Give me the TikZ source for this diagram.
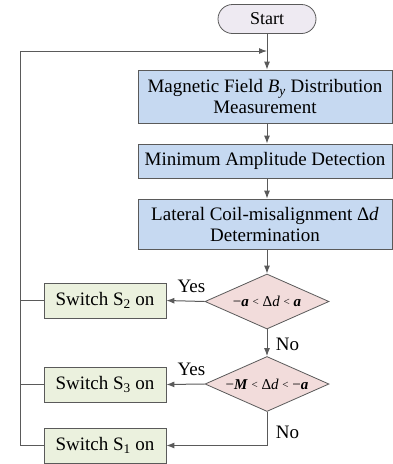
\documentclass[tikz,border=0pt]{standalone}
\usepackage{fontspec}
\setmainfont{Liberation Serif}
\usetikzlibrary{shapes.geometric,arrows.meta}
\definecolor{procfill}{HTML}{C6D9F1}
\definecolor{decfill}{HTML}{F2DCDB}
\definecolor{swfill}{HTML}{EBF1DE}
\definecolor{startfill}{HTML}{EEEAF2}
\definecolor{edgecol}{HTML}{5A5A5A}
\newcommand{\lt}{{\fontsize{11}{12}\selectfont\raisebox{1pt}{<}}}
\begin{document}
\begin{tikzpicture}[x=1pt,y=-1pt,
  txt/.style={font=\fontsize{19}{21}\selectfont},
  proc/.style={txt, draw=edgecol, line width=0.8pt, fill=procfill, minimum width=254pt, inner sep=0pt, align=center},
  dec/.style={diamond, aspect=2.25, draw=edgecol, line width=0.8pt, fill=decfill, minimum width=124pt, minimum height=55pt, inner sep=0pt, font=\fontsize{15}{17}\selectfont},
  sw/.style={txt, draw=edgecol, line width=0.8pt, fill=swfill, minimum width=122pt, minimum height=35pt, inner sep=0pt},
  startbox/.style={draw=edgecol, line width=0.8pt, fill=startfill, rounded corners=14.5pt, minimum width=98pt, minimum height=29pt, inner sep=0pt, font=\fontsize{18}{20}\selectfont},
  arr/.style={draw=edgecol, line width=1pt, -{Latex[length=8pt,width=6pt]}},
  ln/.style={draw=edgecol, line width=1pt},
  lab/.style={txt, inner sep=0pt}]
\useasboundingbox (0,0) rectangle (393,464);
\node[startbox] (start) at (267,19) {Start};
\node[proc, minimum height=53pt] (b1) at (265,96.5) {Magnetic Field \textit{B}\textsubscript{\textit{y}} Distribution\\Measurement};
\node[proc, minimum height=34pt] (b2) at (265,161) {Minimum Amplitude Detection};
\node[proc, minimum height=50pt] (b3) at (265,224) {Lateral Coil-misalignment Δ\textit{d}\\Determination};
\node[dec] (d1) at (267,301.5) {−\textbf{\textit{a}} \lt{} Δ\textit{d} \lt{} \textbf{\textit{a}}};
\node[dec] (d2) at (267,384) {−\textbf{\textit{M}} \lt{} Δ\textit{d} \lt{} −\textbf{\textit{a}}};
\node[sw] (s2) at (105,300.5) {Switch S\textsubscript{2} on};
\node[sw] (s3) at (105,384.5) {Switch S\textsubscript{3} on};
\node[sw] (s1) at (105,445.5) {Switch S\textsubscript{1} on};
\coordinate (join) at (267,51);
\coordinate (lx) at (20,51);
\draw[arr] (start.south) -- (start.south |- b1.north);
\draw[arr] (start.south |- b1.south) -- (start.south |- b2.north);
\draw[arr] (start.south |- b2.south) -- (start.south |- b3.north);
\draw[arr] (start.south |- b3.south) -- (d1.north);
\draw[arr] (d1.west) -- (s2.east);
\draw[arr] (d1.south) -- (d2.north);
\draw[arr] (d2.west) -- (s3.east);
\draw[arr] (d2.south) -- (d2.south |- s1.east) -- (s1.east);
\draw[ln] (s2.west) -- (s2.west -| lx);
\draw[ln] (s3.west) -- (s3.west -| lx);
\draw[arr] (s1.west) -- (s1.west -| lx) -- (lx) -- (join);
\node[lab] at (191.5,286) {Yes};
\node[lab] at (191.5,369) {Yes};
\node[lab] at (287.5,344) {No};
\node[lab] at (287.5,432) {No};
\end{tikzpicture}
\end{document}
